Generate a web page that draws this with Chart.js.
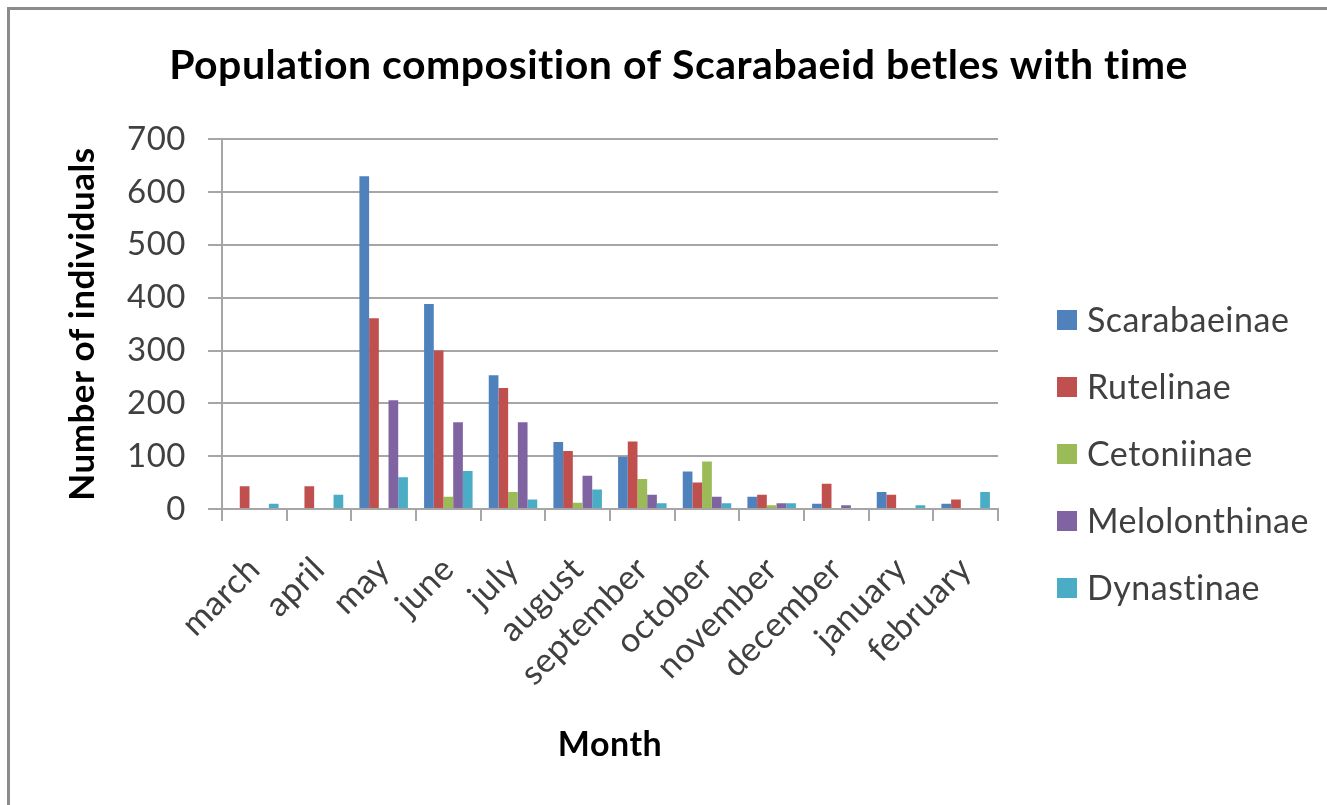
<!DOCTYPE html>
<html>
<head>
<meta charset="utf-8">
<title>Population composition of Scarabaeid betles with time</title>
<script src="https://cdn.jsdelivr.net/npm/chart.js@4.4.1/dist/chart.umd.min.js"></script>
<style>
  html, body { margin: 0; padding: 0; background: #fff; }
  #wrap { position: relative; width: 1327px; height: 805px; }
</style>
</head>
<body>
<div id="wrap"><canvas id="beetleChart" width="1327" height="805"></canvas></div>
<script>
// Data
const months = ["march", "april", "may", "june", "july", "august",
  "september", "october", "november", "december", "january", "february"];

const scarabaeinae  = [0, 0, 630, 388, 253, 127, 99, 71, 23, 10, 32, 10];
const rutelinae     = [43, 43, 361, 300, 229, 110, 128, 50, 27, 48, 27, 18];
const cetoniinae    = [0, 0, 0, 23, 32, 12, 57, 90, 7, 0, 0, 0];
const melolonthinae = [0, 0, 206, 164, 164, 63, 27, 23, 11, 7, 0, 0];
const dynastinae    = [10, 27, 60, 72, 18, 37, 11, 11, 11, 0, 7, 32];

const yTicks = [0, 100, 200, 300, 400, 500, 600, 700];

// Office 2007 palette
const colors = {
  Scarabaeinae: "#4F81BD",
  Rutelinae: "#C0504D",
  Cetoniinae: "#9BBB59",
  Melolonthinae: "#8064A2",
  Dynastinae: "#4BACC6"
};

const gridGray = "#a6a6a6";
const labelGray = "#404040";

Chart.defaults.font.family = "Lato";

// =========================
// FRAME + LEGEND
// =========================
const framePlugin = {
  id: "frame",
  beforeDraw(chart) {
    const ctx = chart.ctx;
    // tiny spacing switches off Lato's "ti" ligature
    ctx.letterSpacing = "0.5px";
    ctx.save();
    ctx.fillStyle = "#fff";
    ctx.fillRect(0, 0, chart.width, chart.height);
    ctx.strokeStyle = "#8c8c8c";
    ctx.lineWidth = 3;
    ctx.beginPath();
    ctx.moveTo(8.5, chart.height);
    ctx.lineTo(8.5, 8.5);
    ctx.lineTo(chart.width, 8.5);
    ctx.stroke();
    ctx.restore();
  }
};

const sideLegend = {
  id: "sideLegend",
  afterDraw(chart) {
    const ctx = chart.ctx;
    const area = chart.chartArea;
    const x = area.right + 59;
    let y = 320;
    ctx.save();
    ctx.font = "34px Lato";
    ctx.textBaseline = "middle";
    ctx.textAlign = "left";
    chart.data.datasets.forEach(ds => {
      ctx.fillStyle = ds.backgroundColor;
      ctx.fillRect(x, y - 10, 20, 20);
      ctx.fillStyle = labelGray;
      ctx.fillText(ds.label, x + 30, y + 1);
      y += 67;
    });
    ctx.restore();
  }
};

function makeSet(label, values) {
  return {
    label: label,
    data: values,
    backgroundColor: colors[label],
    borderWidth: 0,
    categoryPercentage: 0.75,
    barPercentage: 1.0
  };
}

new Chart(document.getElementById("beetleChart"), {
  type: "bar",
  data: {
    labels: months,
    datasets: [
      makeSet("Scarabaeinae", scarabaeinae),
      makeSet("Rutelinae", rutelinae),
      makeSet("Cetoniinae", cetoniinae),
      makeSet("Melolonthinae", melolonthinae),
      makeSet("Dynastinae", dynastinae)
    ]
  },
  options: {
    responsive: false,
    animation: false,
    layout: { padding: { left: 30, right: 0, top: 0, bottom: 0 } },
    plugins: {
      legend: { display: false },
      tooltip: { enabled: false },
      title: {
        display: true,
        text: "Population composition of Scarabaeid betles with time",
        color: "#000",
        font: { size: 41, weight: "bold" },
        padding: { top: 41, bottom: 49 }
      }
    },
    scales: {
      x: {
        grid: {
          display: true,
          drawOnChartArea: false,
          drawTicks: true,
          tickLength: 12,
          color: gridGray,
          lineWidth: 2
        },
        border: { display: true, color: gridGray, width: 2 },
        ticks: {
          color: labelGray,
          font: { size: 34 },
          minRotation: 45,
          maxRotation: 45,
          padding: 28
        },
        title: {
          display: true,
          text: "Month",
          color: "#000",
          font: { size: 34, weight: "bold" },
          padding: { top: 0, bottom: 40 }
        },
        afterFit(scale) { scale.height = 296; }
      },
      y: {
        min: 0,
        max: 700,
        afterBuildTicks(scale) { scale.ticks = yTicks.map(v => ({ value: v })); },
        grid: {
          color: gridGray,
          lineWidth: 2,
          tickLength: 14
        },
        border: { display: true, color: gridGray, width: 2 },
        ticks: {
          color: labelGray,
          font: { size: 33 },
          padding: 22
        },
        title: {
          display: true,
          text: "Number of individuals",
          color: "#000",
          font: { size: 35, weight: "bold" },
          padding: { top: 32, bottom: 0 }
        },
        afterFit(scale) { scale.width = 192; }
      },
      // empty right-hand gutter that holds the legend
      legendGutter: {
        axis: "y",
        position: "right",
        display: true,
        grid: { display: false },
        border: { display: false },
        ticks: { display: false },
        afterFit(scale) { scale.width = 329; }
      }
    }
  },
  plugins: [framePlugin, sideLegend]
});
</script>
</body>
</html>
